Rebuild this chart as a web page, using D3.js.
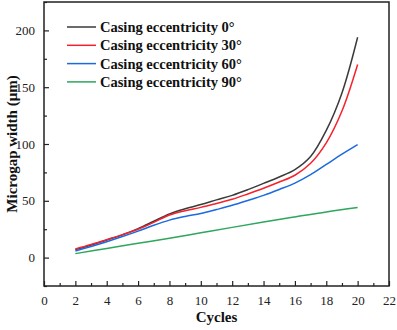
<!DOCTYPE html>
<html>
<head>
<meta charset="utf-8">
<script src="https://cdn.jsdelivr.net/npm/d3@7"></script>
<style>
  body { margin: 0; background: #fff; }
  text { font-family: "Liberation Serif", "Times New Roman", serif; }
</style>
</head>
<body>
<svg id="chart" width="397" height="330"></svg>
<script>
// data
var cycles = [2, 3, 4, 5, 6, 7, 8, 9, 10, 11, 12, 13, 14, 15, 16, 17, 18, 19, 20];
var ecc0  = [7, 11, 15.5, 20, 25.5, 32, 38.5, 43, 46.7, 50.8, 54.8, 59.8, 65.3, 71, 77.5, 89, 112, 145, 194];
var ecc30 = [7.6, 11.5, 15.8, 20.2, 25, 31, 37.5, 41.3, 44.2, 47.7, 51.3, 56, 61, 66.5, 72.5, 83, 101, 129, 170];
var ecc60 = [5.8, 9.8, 14, 18.5, 23.3, 28.5, 33, 36.2, 38.8, 42.3, 46, 50.3, 54.8, 60, 65.6, 73, 82, 91, 99.4];
var greenCycles = [2, 4, 6, 8, 10, 12, 14, 16, 18, 20];
var ecc90 = [3.5, 8, 12.6, 17, 21.8, 26.6, 31.3, 35.8, 40.2, 44];
var seriesNames = ["Casing eccentricity 0\u00b0", "Casing eccentricity 30\u00b0",
                   "Casing eccentricity 60\u00b0", "Casing eccentricity 90\u00b0"];
var colors = ["#3a3a3a", "#f5222d", "#1a6ae0", "#2ea65c"];
var xTicks = [0, 2, 4, 6, 8, 10, 12, 14, 16, 18, 20, 22];
var yTicks = [0, 50, 100, 150, 200];

var svg = d3.select("#chart");
var plotLeft = 44, plotRight = 389, plotTop = 2, plotBottom = 286;

var x = d3.scaleLinear().domain([0, 22]).range([plotLeft, plotRight]);
var y = d3.scaleLinear().domain([-25, 225]).range([plotBottom, plotTop]);

var series = [
  {xs: cycles, ys: ecc0},
  {xs: cycles, ys: ecc30},
  {xs: cycles, ys: ecc60},
  {xs: greenCycles, ys: ecc90}
];

var line = d3.line()
  .x(function (d) { return x(d[0]); })
  .y(function (d) { return y(d[1]); })
  .curve(d3.curveCatmullRom.alpha(0.5));

series.forEach(function (s, i) {
  svg.append("path")
    .datum(d3.zip(s.xs, s.ys))
    .attr("d", line)
    .attr("fill", "none")
    .attr("stroke", colors[i])
    .attr("stroke-width", 1.5);
});

// axes with inward ticks
var xAxis = d3.axisBottom(x).tickValues(xTicks).tickSize(-5).tickPadding(10);
var xMinor = d3.axisBottom(x).tickValues(d3.range(1, 22, 2)).tickSize(-3).tickFormat("");
var yAxis = d3.axisLeft(y).tickValues(yTicks).tickSize(-5).tickPadding(9);
var yMinor = d3.axisLeft(y).tickValues([-25, 25, 75, 125, 175, 225]).tickSize(-3).tickFormat("");

[[xAxis, "translate(0," + plotBottom + ")"], [xMinor, "translate(0," + plotBottom + ")"],
 [yAxis, "translate(" + plotLeft + ",0)"], [yMinor, "translate(" + plotLeft + ",0)"]]
  .forEach(function (a) {
    svg.append("g")
      .attr("transform", a[1])
      .call(a[0])
      .attr("font-family", "Liberation Serif")
      .attr("font-size", 13);
  });

svg.selectAll(".domain").remove();
svg.selectAll(".tick line").attr("stroke", "#222").attr("stroke-width", 1.2);
svg.selectAll(".tick text").attr("fill", "#222");

// frame
svg.append("rect")
  .attr("x", plotLeft).attr("y", plotTop)
  .attr("width", plotRight - plotLeft).attr("height", plotBottom - plotTop)
  .attr("fill", "none").attr("stroke", "#222").attr("stroke-width", 1.5);

// axis titles
svg.append("text")
  .attr("x", (plotLeft + plotRight) / 2).attr("y", 322)
  .attr("text-anchor", "middle")
  .attr("font-weight", "bold").attr("font-size", "15px")
  .attr("fill", "#111")
  .text("Cycles");

svg.append("text")
  .attr("transform", "translate(17," + 144 + ") rotate(-90)")
  .attr("text-anchor", "middle")
  .attr("font-weight", "bold").attr("font-size", "15px")
  .attr("fill", "#111")
  .text("Microgap width (\u03bcm)");

// legend
seriesNames.forEach(function (name, i) {
  var ly = 27 + i * 18.3;
  svg.append("line")
    .attr("x1", 67).attr("x2", 96)
    .attr("y1", ly).attr("y2", ly)
    .attr("stroke", colors[i]).attr("stroke-width", 1.5);
  svg.append("text")
    .attr("x", 100).attr("y", ly + 5)
    .attr("font-weight", "bold").attr("font-size", "14.5px")
    .attr("fill", "#111")
    .text(name);
});
</script>
</body>
</html>
